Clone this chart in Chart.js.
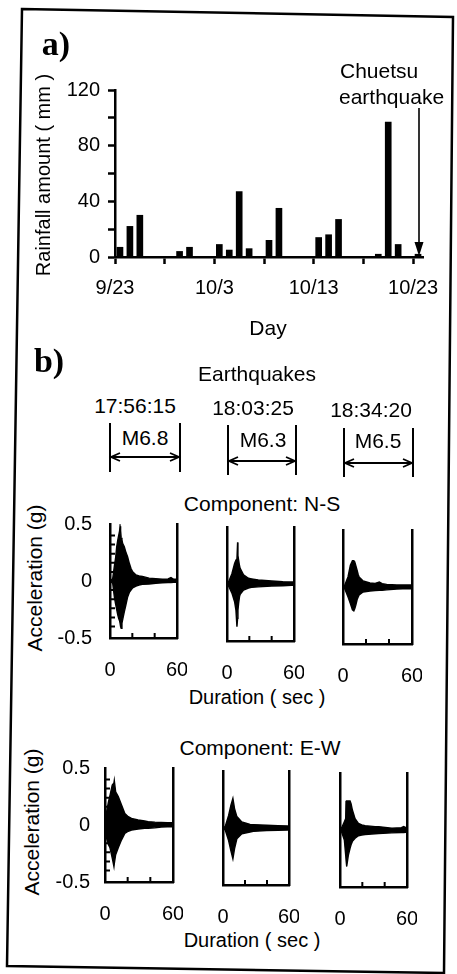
<!DOCTYPE html>
<html>
<head>
<meta charset="utf-8">
<script src="https://cdn.jsdelivr.net/npm/chart.js@4.4.0/dist/chart.umd.min.js"></script>
<style>
  html, body { margin: 0; padding: 0; background: #fff; }
  #page { position: relative; width: 457px; height: 974px; overflow: hidden;
          font-family: "Liberation Sans", Arial, sans-serif; color: #000; }
  #page canvas { position: absolute; }
  .t { position: absolute; white-space: nowrap; transform: translate(-50%, -50%);
       font-size: 21px; line-height: 1; }
  .l { transform: translate(0, -50%); }
  .rot { transform: translate(-50%, -50%) rotate(-90deg); }
  .tag { font-family: "Liberation Serif", "Times New Roman", serif; font-weight: bold; font-size: 34px; }
  #deco { position: absolute; left: 0; top: 0; z-index: 5; }
</style>
</head>
<body>
<div id="page">
  <canvas id="rain" width="457" height="345" style="left:0;top:0"></canvas>

  <div class="t tag" style="left:56px;top:44px">a)</div>
  <div class="t rot" style="left:43px;top:175px;font-size:20px">Rainfall amount ( mm )</div>
  <div class="t l" style="left:340px;top:70px">Chuetsu</div>
  <div class="t l" style="left:339px;top:96px">earthquake</div>
  <div class="t" style="left:268px;top:327px">Day</div>

  <div class="t tag" style="left:49px;top:361px">b)</div>
  <div class="t" style="left:257px;top:373px">Earthquakes</div>
  <div class="t" style="left:135px;top:405px">17:56:15</div>
  <div class="t" style="left:253px;top:407px">18:03:25</div>
  <div class="t" style="left:371px;top:409px">18:34:20</div>
  <div class="t" style="left:145px;top:437px">M6.8</div>
  <div class="t" style="left:263px;top:439px">M6.3</div>
  <div class="t" style="left:378px;top:440px">M6.5</div>

  <div class="t" style="left:262px;top:503px">Component: N-S</div>
  <div class="t rot" style="left:34px;top:578px">Acceleration (g)</div>
  <div class="t" style="left:257px;top:697px;font-size:20px">Duration ( sec )</div>

  <div class="t" style="left:260px;top:747px">Component: E-W</div>
  <div class="t rot" style="left:31px;top:822px">Acceleration (g)</div>
  <div class="t" style="left:252px;top:940px;font-size:20px">Duration ( sec )</div>

  <svg id="deco" width="457" height="974"></svg>
</div>

<script>
// a) daily rainfall, days counted from 9/23
const dayTickAt = [0, 10, 20, 30];
const dayTickText = ['9/23', '10/3', '10/13', '10/23'];
const rainDay = [0, 1, 2, 6, 7, 10, 11, 12, 13, 15, 16, 20, 21, 22, 26, 27, 28, 30];
const rainMm  = [7, 22, 30, 4, 7, 9, 5, 47, 6, 12, 35, 14, 16, 27, 2, 97, 9, 2];

// b) acceleration envelopes (g) against duration (sec)
const ns1Time = [0, 2.4, 3.9, 5, 6, 7, 7.8, 8.6, 9, 9.5, 10, 10.7, 11.3, 12.8, 14, 15.8, 17.3, 18.8, 20.3, 23.3, 26, 29, 35, 41, 47, 52, 54.6, 57, 60];
const ns1Up = [0, 0.02, 0.13, 0.2, 0.3, 0.36, 0.4, 0.44, 0.48, 0.44, 0.38, 0.36, 0.33, 0.3, 0.26, 0.21, 0.155, 0.11, 0.08, 0.053, 0.045, 0.04, 0.025, 0.02, 0.015, 0.018, 0.03, 0.015, 0.015];
const ns1Lo = [0, -0.02, -0.14, -0.2, -0.25, -0.3, -0.33, -0.35, -0.37, -0.4, -0.415, -0.37, -0.34, -0.27, -0.22, -0.14, -0.1, -0.08, -0.06, -0.044, -0.035, -0.03, -0.026, -0.02, -0.015, -0.014, -0.013, -0.012, -0.012];

const ns2Time = [0, 1.5, 4.4, 6.8, 8, 8.9, 9.5, 9.8, 10.4, 11.2, 11.8, 14.8, 19.2, 22, 28, 40, 50, 57.7, 60];
const ns2Up = [0, 0.02, 0.09, 0.18, 0.21, 0.22, 0.365, 0.25, 0.21, 0.16, 0.137, 0.08, 0.05, 0.045, 0.035, 0.026, 0.02, 0.018, 0.018];
const ns2Lo = [0, -0.02, -0.08, -0.155, -0.23, -0.375, -0.3, -0.23, -0.17, -0.11, -0.09, -0.053, -0.035, -0.03, -0.025, -0.018, -0.015, -0.012, -0.012];

const ns3Time = [0, 1.5, 4.4, 6.4, 8.2, 9.4, 10.2, 11.1, 12.3, 13.2, 14, 17.5, 23.4, 28, 31.6, 34, 38, 46.8, 52, 58.5, 60];
const ns3Up = [0, 0.015, 0.09, 0.19, 0.23, 0.23, 0.22, 0.19, 0.146, 0.11, 0.088, 0.053, 0.035, 0.032, 0.044, 0.03, 0.023, 0.018, 0.018, 0.018, 0.018];
const ns3Lo = [0, -0.015, -0.088, -0.146, -0.2, -0.21, -0.19, -0.16, -0.11, -0.088, -0.07, -0.044, -0.035, -0.032, -0.03, -0.028, -0.025, -0.018, -0.016, -0.015, -0.015];

const ew1Time = [0, 1.5, 3, 4.4, 6.4, 7.9, 8.2, 9.4, 11.7, 14.6, 17.5, 20.5, 23.4, 29.2, 35, 38, 44, 49.7, 55, 60];
const ew1Up = [0.05, 0.12, 0.2, 0.26, 0.35, 0.37, 0.39, 0.29, 0.25, 0.175, 0.1, 0.073, 0.058, 0.044, 0.035, 0.03, 0.025, 0.022, 0.02, 0.02];
const ew1Lo = [-0.05, -0.12, -0.17, -0.2, -0.29, -0.365, -0.34, -0.26, -0.2, -0.13, -0.073, -0.055, -0.044, -0.035, -0.03, -0.028, -0.025, -0.018, -0.016, -0.015];

const ew2Time = [0, 2.1, 5.1, 7.2, 9, 10.5, 12.6, 17.1, 24.6, 27.6, 39.6, 50, 59, 60];
const ew2Up = [0, 0.015, 0.11, 0.2, 0.26, 0.17, 0.1, 0.053, 0.032, 0.03, 0.024, 0.02, 0.018, 0.018];
const ew2Lo = [0, -0.02, -0.11, -0.2, -0.27, -0.18, -0.094, -0.05, -0.035, -0.03, -0.022, -0.02, -0.018, -0.018];

const ew3Time = [0, 1.5, 3.9, 5.1, 5.4, 6, 7.5, 9, 9.9, 11.1, 13.5, 16.5, 19.5, 22.5, 31.5, 34.5, 46.5, 55, 57, 59, 60];
const ew3Up = [0, 0.02, 0.073, 0.1, 0.25, 0.255, 0.255, 0.255, 0.23, 0.175, 0.1, 0.058, 0.045, 0.038, 0.03, 0.03, 0.015, 0.02, 0.03, 0.02, 0.02];
const ew3Lo = [0, -0.02, -0.088, -0.22, -0.26, -0.32, -0.22, -0.16, -0.13, -0.1, -0.073, -0.05, -0.044, -0.04, -0.033, -0.032, -0.025, -0.022, -0.022, -0.02, -0.02];

const accelTicks = [-0.5, 0, 0.5];
const accelMinor = [0.4, 0.32, 0.24, 0.16, 0.08, 0, -0.08, -0.16, -0.24, -0.32, -0.4];
const durationTicks = [0, 60];
const durationMinor = [20, 40];

Chart.defaults.font.family = '"Liberation Sans", Arial, sans-serif';
Chart.defaults.color = '#000';

const AXIS = 2.5;

// skida dodatni razmak koji Chart.js ostavlja za krajnje oznake
function fixX(h) {
    return s => { s.height = h; s.paddingLeft = 0; s.paddingRight = 0; };
}
function fixY(w) {
    return s => { s.width = w; s.paddingTop = 0; s.paddingBottom = 0; };
}

// Grafikon a) - padavine
new Chart(document.getElementById('rain'), {
    type: 'bar',
    data: {
        datasets: [{
            data: rainDay.map((d, i) => ({ x: d + 0.5, y: rainMm[i] })),
            backgroundColor: '#000',
            barThickness: 6
        }]
    },
    options: {
        responsive: false,
        animation: false,
        layout: { padding: { left: 0, top: 90, right: 34, bottom: 0 } },
        plugins: { legend: { display: false }, tooltip: { enabled: false } },
        scales: {
            x: {
                type: 'linear', min: 0, max: 31, offset: false,
                afterFit: fixX(88),
                grid: { offset: false, drawOnChartArea: false, tickLength: 7, tickWidth: AXIS, tickColor: '#000' },
                border: { display: true, color: '#000', width: AXIS },
                ticks: {
                    stepSize: 5, includeBounds: false, autoSkip: false, maxRotation: 0,
                    padding: 12, font: { size: 20 },
                    callback: v => {
                        const k = dayTickAt.indexOf(v);
                        return k < 0 ? '' : dayTickText[k];
                    }
                }
            },
            y: {
                min: 0, max: 120,
                afterFit: fixY(115),
                grid: { drawOnChartArea: false, tickLength: 7, tickWidth: AXIS, tickColor: '#000' },
                border: { display: true, color: '#000', width: AXIS },
                ticks: {
                    stepSize: 20, padding: 8, font: { size: 20 },
                    callback: v => (v % 40 === 0 ? v : '')
                }
            }
        }
    }
});

// male crtice okrenute ka unutra
const innerTicks = {
    id: 'innerTicks',
    afterDraw(chart, args, opts) {
        const ctx = chart.ctx, a = chart.chartArea;
        const sx = chart.scales.x, sy = chart.scales.y;
        ctx.save();
        ctx.strokeStyle = '#000';
        ctx.lineWidth = 2;
        ctx.beginPath();
        (opts.x || []).forEach(v => {
            const px = sx.getPixelForValue(v);
            ctx.moveTo(px, a.bottom);
            ctx.lineTo(px, a.bottom - opts.len);
        });
        (opts.y || []).forEach(v => {
            const py = sy.getPixelForValue(v);
            ctx.moveTo(a.left, py);
            ctx.lineTo(a.left + opts.len, py);
        });
        ctx.stroke();
        ctx.restore();
    }
};

const page = document.getElementById('page');

function seismo(time, up, lo, box, first, yPad) {
    const cv = document.createElement('canvas');
    cv.width = box.r - box.l + 85;
    cv.height = box.b - box.t + 50;
    cv.style.left = (box.l - 75) + 'px';
    cv.style.top = (box.t - 10) + 'px';
    page.insertBefore(cv, document.getElementById('deco'));

    const border = { display: true, color: '#000', width: AXIS };
    new Chart(cv, {
        type: 'line',
        data: {
            datasets: [{
                data: time.map((t, i) => ({ x: t, y: up[i] })),
                fill: '+1',
                backgroundColor: '#000',
                borderColor: '#000',
                borderWidth: 1.4,
                pointRadius: 0
            }, {
                data: time.map((t, i) => ({ x: t, y: lo[i] })),
                fill: false,
                borderColor: '#000',
                borderWidth: 1.4,
                pointRadius: 0
            }]
        },
        options: {
            responsive: false,
            animation: false,
            layout: { padding: { left: 0, top: 10, right: 10, bottom: 0 } },
            plugins: {
                legend: { display: false },
                tooltip: { enabled: false },
                innerTicks: { x: durationMinor, y: first ? accelMinor : [], len: 5 }
            },
            scales: {
                x: {
                    type: 'linear', min: 0, max: 60,
                    afterFit: fixX(40),
                    grid: { drawOnChartArea: false, drawTicks: false },
                    border: border,
                    ticks: { autoSkip: false, maxRotation: 0, padding: 20, font: { size: 20 } },
                    afterBuildTicks: s => { s.ticks = durationTicks.map(v => ({ value: v })); }
                },
                y: {
                    min: -0.5, max: 0.5,
                    afterFit: fixY(75),
                    grid: { drawOnChartArea: false, drawTicks: false },
                    border: border,
                    ticks: { display: first, padding: yPad, font: { size: 20 } },
                    afterBuildTicks: s => { s.ticks = accelTicks.map(v => ({ value: v })); }
                },
                y2: {
                    position: 'right', min: -0.5, max: 0.5,
                    afterFit: fixY(0),
                    grid: { display: false, drawTicks: false },
                    border: border,
                    ticks: { display: false }
                }
            }
        },
        plugins: [innerTicks]
    });
}

seismo(ns1Time, ns1Up, ns1Lo, { l: 110, r: 177, t: 524, b: 638 }, true, 18);
seismo(ns2Time, ns2Up, ns2Lo, { l: 227, r: 294, t: 527, b: 641 }, false, 0);
seismo(ns3Time, ns3Up, ns3Lo, { l: 343, r: 412, t: 530, b: 644 }, false, 0);
seismo(ew1Time, ew1Up, ew1Lo, { l: 105, r: 173, t: 768, b: 882 }, true, 15);
seismo(ew2Time, ew2Up, ew2Lo, { l: 223, r: 289, t: 771, b: 885 }, false, 0);
seismo(ew3Time, ew3Up, ew3Lo, { l: 340, r: 407, t: 773, b: 887 }, false, 0);

// okvir, strelice i oznake trajanja zapisa
const svg = document.getElementById('deco');
let s = '<polygon points="22,9 453,17 444,973 7,966" fill="none" stroke="#000" stroke-width="2.5"/>';
s += '<line x1="419" y1="108" x2="419" y2="246" stroke="#000" stroke-width="1.6"/>';
s += '<polygon points="414.5,242 423.5,242 419,256" fill="#000"/>';
[
    { x1: 110, x2: 180, top: 423, bot: 472, ya: 457 },
    { x1: 228, x2: 296, top: 425, bot: 475, ya: 461 },
    { x1: 344, x2: 413, top: 428, bot: 477, ya: 463 }
].forEach(w => {
    s += `<line x1="${w.x1}" y1="${w.top}" x2="${w.x1}" y2="${w.bot}" stroke="#000" stroke-width="2"/>`;
    s += `<line x1="${w.x2}" y1="${w.top}" x2="${w.x2}" y2="${w.bot}" stroke="#000" stroke-width="2"/>`;
    s += `<line x1="${w.x1 + 1}" y1="${w.ya}" x2="${w.x2 - 1}" y2="${w.ya}" stroke="#000" stroke-width="1.8"/>`;
    s += `<polyline points="${w.x1 + 10},${w.ya - 4} ${w.x1 + 1},${w.ya} ${w.x1 + 10},${w.ya + 4}" fill="none" stroke="#000" stroke-width="1.8"/>`;
    s += `<polyline points="${w.x2 - 10},${w.ya - 4} ${w.x2 - 1},${w.ya} ${w.x2 - 10},${w.ya + 4}" fill="none" stroke="#000" stroke-width="1.8"/>`;
});
svg.innerHTML = s;
</script>
</body>
</html>
